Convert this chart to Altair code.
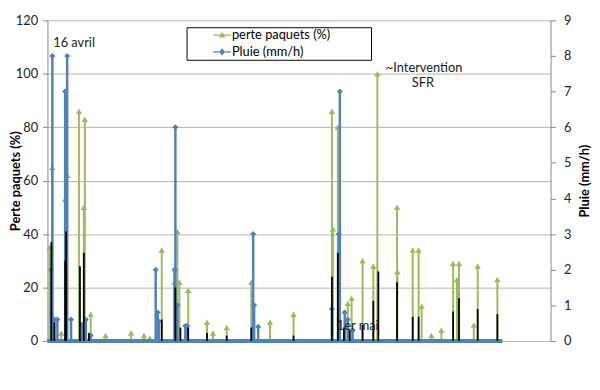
import altair as alt
import pandas as pd

# ---------------- data ----------------
x_ticks = [24200, 29200, 34200, 39200, 44200, 49200, 54200, 59200]
left_ticks = [0, 20, 40, 60, 80, 100, 120]
right_ticks = [0, 1, 2, 3, 4, 5, 6, 7, 8, 9]

series_names = ["perte paquets (%)", "Pluie (mm/h)"]

# perte paquets (%) spikes
perte_minutes = [24340, 24540, 25160, 25430, 25570, 26390, 26730, 26800, 27210, 28240,
                 30020, 30910, 31320, 32150, 33040, 33240, 33380, 33990, 35300, 35710,
                 36670, 38380, 39680, 41320, 43990, 44060, 44400, 45090, 45360, 46120,
                 46870, 47150, 48520, 48540, 49610, 50020, 50230, 50910, 51600, 52420,
                 52690, 52830, 53860, 54130, 55500]
perte_values = [35, 65, 3, 53, 62, 86, 50, 83, 10, 2,
                3, 2, 1, 34, 22, 41, 22, 19, 7, 3,
                5, 22, 7, 10, 86, 42, 80, 14, 16, 30,
                28, 100, 50, 26, 34, 34, 13, 2, 4, 29,
                23, 29, 6, 28, 23]

# Pluie (mm/h) spikes
pluie_minutes = [24470, 24540, 24680, 24890, 25430, 25570, 25840, 26600, 26870, 27210,
                 31730, 31870, 31940, 33040, 33100, 33240, 33790, 33930, 38510, 38580,
                 38860, 43990, 44470, 44540, 44880, 45090, 45430]
pluie_values = [2.0, 8.0, 0.6, 0.6, 7.0, 8.0, 0.6, 0.45, 0.6, 0.15,
                2.0, 0.8, 0.55, 2.0, 6.0, 1.0, 0.42, 0.42, 3.0, 1.0,
                0.4, 0.9, 3.0, 7.0, 0.8, 0.6, 0.3]

# black series (no legend entry)
noir_minutes = [24470, 24680, 25430, 25500, 26460, 26730, 27080, 32150, 33100, 33450,
                33990, 35300, 36670, 38380, 41320, 43990, 44400, 44820, 45230, 46120,
                46870, 47220, 48520, 49610, 50020, 52420, 52830, 54130, 55500]
noir_values = [37, 7, 30, 41, 28, 33, 3, 8, 20, 5,
               5, 3, 2, 5, 2, 24, 33, 5, 4, 6,
               15, 26, 22, 9, 9, 11, 16, 12, 10]

baseline_span = [24200, 55850]

annotations = ["16 avril", "~Intervention", "SFR", "1er mai"]
annot_minutes = [24600, 47740, 49540, 44330]
annot_values = [111.5, 102.3, 96.4, 5.5]

GREEN = "#9BBB59"
BLUE = "#4F81BD"
FONT = "Lato"

df_p = pd.DataFrame({"t": perte_minutes, "v": perte_values})
df_b = pd.DataFrame({"t": pluie_minutes, "v": pluie_values})
df_n = pd.DataFrame({"t": noir_minutes, "v": noir_values})
df_base = pd.DataFrame({"t0": [baseline_span[0]], "t1": [baseline_span[1]]})
df_leg = pd.DataFrame({"series": series_names})
df_txt = pd.DataFrame({"label": annotations, "t": annot_minutes, "v": annot_values})

xscale = alt.Scale(domain=[24200, 59200], nice=False, zero=False)
lscale = alt.Scale(domain=[0, 120], nice=False)
rscale = alt.Scale(domain=[0, 9], nice=False)

x_axis = alt.Axis(values=x_ticks, format="d", grid=False,
                  title="Minutes (depuis de début du mois d'avril)",
                  labelFontSize=13, titleFontSize=13, titleFontWeight="bold",
                  tickSize=5, labelPadding=3, titlePadding=4, labelFlush=False,
                  domainColor="#888888", tickColor="#888888",
                  labelColor="#222222", titleColor="#000000")
xenc = alt.X("t:Q", scale=xscale, axis=x_axis)
xenc_noaxis = alt.X("t:Q", scale=xscale, axis=None)

left_axis = alt.Axis(values=left_ticks, grid=True, gridColor="#b3b3b3", gridWidth=1,
                     title="Perte paquets (%)", orient="left",
                     labelFontSize=13, titleFontSize=13, titleFontWeight="bold",
                     tickSize=5, labelPadding=5, titlePadding=-7,
                     domainColor="#888888", tickColor="#888888",
                     labelColor="#222222", titleColor="#000000")
right_axis = alt.Axis(values=right_ticks, grid=False, orient="right",
                      title="Pluie (mm/h)", titleAngle=270,
                      labelFontSize=13, titleFontSize=13, titleFontWeight="bold",
                      tickSize=5, labelPadding=8, titlePadding=21,
                      domainColor="#888888", tickColor="#888888",
                      labelColor="#222222", titleColor="#000000")

yl = alt.Y("v:Q", scale=lscale, axis=left_axis)
yr = alt.Y("v:Q", scale=rscale, axis=right_axis)

green_rules = alt.Chart(df_p).mark_rule(color=GREEN, strokeWidth=2).encode(
    x=xenc, y=yl, y2=alt.datum(0))
green_pts = alt.Chart(df_p).mark_point(shape="triangle-up", filled=True, color=GREEN,
                                       size=42, opacity=1).encode(x=xenc, y=yl)
left_layer = alt.layer(green_rules, green_pts)

blue_base = alt.Chart(df_base).mark_rule(color=BLUE, strokeWidth=4).encode(
    x=alt.X("t0:Q", scale=xscale, axis=None), x2="t1:Q",
    y=alt.Y("z:Q", scale=rscale, axis=right_axis)).transform_calculate(z="0")
blue_rules = alt.Chart(df_b).mark_rule(color=BLUE, strokeWidth=2.5).encode(
    x=xenc_noaxis, y=yr, y2=alt.datum(0))
blue_pts = alt.Chart(df_b).mark_point(shape="diamond", filled=True, color=BLUE,
                                      size=38, opacity=1).encode(x=xenc_noaxis, y=yr)
blue_layer = alt.layer(blue_base, blue_rules, blue_pts)

black_rules = alt.Chart(df_n).mark_rule(color="#000000", strokeWidth=1.8).encode(
    x=xenc_noaxis, y=alt.Y("v:Q", scale=lscale, axis=None), y2=alt.datum(0))

tri_path = "M-1.5,-0.12L1.5,-0.12L1.5,0.12L-1.5,0.12ZM0,-0.55L0.55,0.4L-0.55,0.4Z"
dia_path = "M-1.5,-0.12L1.5,-0.12L1.5,0.12L-1.5,0.12ZM0,-0.6L0.5,0L0,0.6L-0.5,0Z"
pad = "\u00a0" * 12 + "\u200b"
leg = alt.Legend(orient="none", legendX=141, legendY=7, title=None,
                 direction="vertical", strokeColor="#000000",
                 fillColor="#ffffff", padding=1, symbolOffset=28,
                 symbolSize=144, symbolOpacity=1, rowPadding=3,
                 labelFontSize=13, labelOffset=3, labelColor="#000000",
                 labelLimit=300,
                 labelExpr="datum.label + '" + pad + "'")
legend_layer = alt.Chart(df_leg).mark_point(filled=True, opacity=1, clip=True).encode(
    x=alt.value(-60), y=alt.value(-60),
    color=alt.Color("series:N",
                    scale=alt.Scale(domain=series_names, range=[GREEN, BLUE]),
                    legend=leg),
    shape=alt.Shape("series:N",
                    scale=alt.Scale(domain=series_names, range=[tri_path, dia_path]),
                    legend=leg)
)

text_layer = alt.Chart(df_txt).mark_text(align="left", baseline="middle", fontSize=13,
                                         font=FONT, color="#222222").encode(
    x=xenc_noaxis, y=alt.Y("v:Q", scale=lscale, axis=None), text="label:N")

chart = alt.layer(left_layer, blue_layer, black_rules, legend_layer, text_layer).resolve_scale(
    y="independent"
).properties(
    width=510, height=325,
    autosize=alt.AutoSizeParams(type="none"),
    padding={"left": 40, "top": 10, "right": 42, "bottom": 30}
).configure(font=FONT).configure_view(stroke=None)

chart.save("out.html", embed_options={"renderer": "svg", "actions": False})
